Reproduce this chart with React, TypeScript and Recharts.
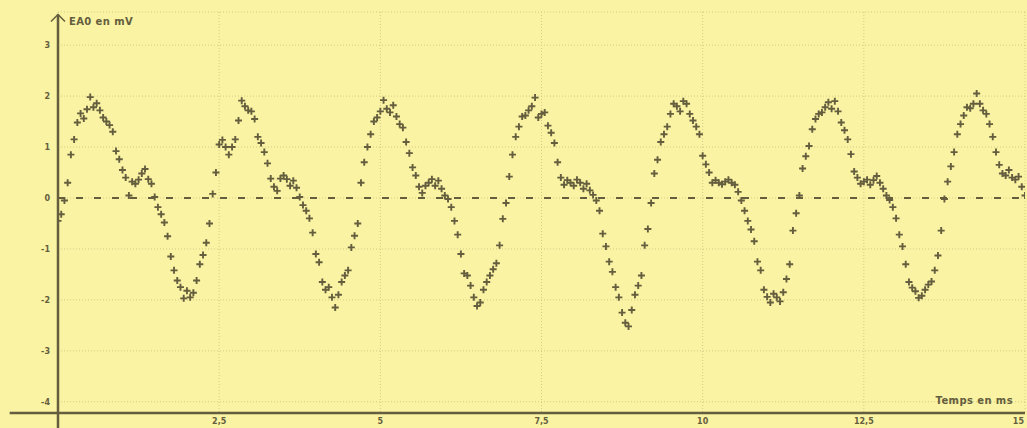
import { ComposedChart, Scatter, XAxis, YAxis, CartesianGrid, ReferenceLine, ReferenceDot } from 'recharts'

// Acquisition EA0 : une valeur toutes les 0,05 ms, de 0 à 15 ms
const SAMPLE_MS = 0.05
const eaoValues = [
  -0.45, -0.32, -0.05, 0.3, 0.85, 1.15, 1.48, 1.66, 1.56, 1.74,
  1.98, 1.78, 1.86, 1.72, 1.58, 1.5, 1.43, 1.3, 0.92, 0.76,
  0.55, 0.4, 0.05, 0.32, 0.28, 0.36, 0.48, 0.57, 0.37, 0.28,
  0.02, -0.18, -0.32, -0.48, -0.75, -1.15, -1.42, -1.62, -1.75, -1.97,
  -1.82, -1.95, -1.86, -1.62, -1.3, -1.12, -0.88, -0.5, 0.08, 0.5,
  1.05, 1.14, 1.0, 0.85, 1.0, 1.15, 1.52, 1.91, 1.8, 1.72,
  1.7, 1.55, 1.2, 1.08, 0.9, 0.68, 0.38, 0.22, 0.14, 0.38,
  0.44, 0.37, 0.24, 0.34, 0.2, 0.02, -0.14, -0.25, -0.4, -0.68,
  -1.1, -1.26, -1.65, -1.8, -1.75, -1.95, -2.15, -1.9, -1.65, -1.52,
  -1.42, -0.97, -0.74, -0.5, 0.3, 0.7, 1.0, 1.25, 1.5, 1.58,
  1.7, 1.92, 1.75, 1.68, 1.82, 1.6, 1.45, 1.38, 1.1, 0.88,
  0.6, 0.44, 0.22, 0.1, 0.24, 0.3, 0.37, 0.24, 0.34, 0.18,
  0.05, -0.02, -0.18, -0.45, -0.72, -1.1, -1.48, -1.52, -1.72, -1.95,
  -2.12, -2.05, -1.8, -1.65, -1.52, -1.4, -1.28, -0.93, -0.41, -0.1,
  0.42, 0.85, 1.2, 1.4, 1.6, 1.62, 1.72, 1.8, 1.97, 1.58,
  1.65, 1.68, 1.42, 1.28, 1.08, 0.7, 0.4, 0.26, 0.35, 0.3,
  0.24, 0.36, 0.3, 0.18, 0.28, 0.15, 0.06, -0.05, -0.25, -0.7,
  -0.95, -1.25, -1.45, -1.75, -1.95, -2.25, -2.45, -2.52, -2.2, -1.9,
  -1.72, -1.52, -0.93, -0.61, -0.1, 0.48, 0.75, 1.1, 1.25, 1.4,
  1.65, 1.85, 1.8, 1.7, 1.9, 1.85, 1.65, 1.52, 1.4, 1.25,
  0.83, 0.66, 0.5, 0.3, 0.35, 0.3, 0.27, 0.32, 0.36, 0.3,
  0.26, 0.12, -0.05, -0.25, -0.45, -0.62, -0.85, -1.25, -1.42, -1.8,
  -1.94, -2.05, -1.88, -1.95, -2.03, -1.85, -1.59, -1.3, -0.64, -0.3,
  0.05, 0.58, 0.82, 1.02, 1.35, 1.55, 1.65, 1.68, 1.78, 1.88,
  1.75, 1.9, 1.7, 1.48, 1.33, 1.15, 0.86, 0.52, 0.4, 0.28,
  0.32, 0.36, 0.26, 0.35, 0.43, 0.3, 0.18, 0.05, -0.04, -0.18,
  -0.4, -0.72, -0.95, -1.3, -1.65, -1.76, -1.83, -1.96, -1.92, -1.8,
  -1.7, -1.64, -1.42, -1.13, -0.64, -0.02, 0.32, 0.62, 0.9, 1.25,
  1.45, 1.62, 1.78, 1.76, 1.85, 2.05, 1.85, 1.72, 1.65, 1.45,
  1.2, 0.9, 0.65, 0.48, 0.44, 0.55, 0.4, 0.36, 0.42, 0.22,
  0.05,
]
const xTicks = [2.5, 5, 7.5, 10, 12.5, 15]
const yTicks = [-4, -3, -2, -1, 0, 1, 2, 3]

const data = eaoValues.map((v, i) => ({ t: Math.round(i * SAMPLE_MS * 100) / 100, v }))

const INK = '#655e3e'
const PAPER = '#f9f3a3'
const GRID = '#d3cb86'

// marqueur "+" comme sur l'écran de l'oscillo
const PlusMark = (props: any) => {
  const { cx, cy } = props
  if (cx == null || cy == null) return null
  return <path d={`M${cx - 3.5},${cy}H${cx + 3.5}M${cx},${cy - 3.5}V${cy + 3.5}`} stroke={INK} strokeWidth={1.9} fill="none" />
}

// flèche en haut de l'axe + titre de l'axe
const AxisArrow = (props: any) => {
  const { cx, cy } = props
  return (
    <g>
      <path d={`M${cx - 7},${cy + 7}L${cx},${cy}L${cx + 7},${cy + 7}`} stroke={INK} strokeWidth={1.5} fill="none" />
      <text x={cx + 11} y={cy + 10} fontSize={10} fill={INK} fontFamily="DejaVu Sans" fontWeight="bold" letterSpacing={0.4}>
        EA0 en mV
      </text>
    </g>
  )
}

const tickFont = { fontSize: 8, fill: INK, fontFamily: 'DejaVu Sans', fontWeight: 'bold' as const }

// étiquettes de l'axe des temps (la dernière est calée sur le bord)
const TimeTick = (props: any) => {
  const { x, y, payload } = props
  const last = payload.value === 15
  return (
    <text x={last ? x - 1 : x} y={y} dy={8} textAnchor={last ? 'end' : 'middle'} {...tickFont}>
      {String(payload.value).replace('.', ',')}
    </text>
  )
}

export default function App() {
  return (
    <div style={{ width: 1027, height: 428, background: PAPER, position: 'relative' }}>
      <style>{'body{margin:0}'}</style>
      <ComposedChart width={1027} height={428} data={data} margin={{ top: 12, right: 2, left: 0, bottom: 0 }}>
        <CartesianGrid stroke={GRID} strokeDasharray="1 2" />
        <XAxis
          dataKey="t"
          type="number"
          domain={[0, 15]}
          ticks={xTicks}
          allowDataOverflow
          axisLine={false}
          tickLine={false}
          tickSize={0}
          tickMargin={3}
          height={15}
          interval={0}
          tick={TimeTick}
        />
        <YAxis
          type="number"
          domain={[-4.22, 3.65]}
          ticks={yTicks}
          allowDataOverflow
          axisLine={false}
          tickLine={false}
          width={58}
          interval={0}
          tick={tickFont}
        />
        {/* ligne du zéro en tirets */}
        <ReferenceLine y={0} stroke={INK} strokeWidth={2} strokeDasharray="7 11" />
        {/* axes dessinés comme sur l'original (ils dépassent un peu) */}
        <ReferenceLine
          segment={[{ x: -0.75, y: -4.22 }, { x: 15, y: -4.22 }]}
          stroke={INK}
          strokeWidth={2.5}
          ifOverflow="visible"
        />
        <ReferenceLine
          segment={[{ x: 0, y: -4.52 }, { x: 0, y: 3.6 }]}
          stroke={INK}
          strokeWidth={2.5}
          ifOverflow="visible"
        />
        <ReferenceDot x={0} y={3.6} ifOverflow="visible" shape={AxisArrow} />
        <ReferenceDot
          x={15}
          y={-4.22}
          ifOverflow="visible"
          shape={(p: any) => (
            <text x={p.cx - 12} y={p.cy - 9} textAnchor="end" fontSize={10} fill={INK} fontFamily="DejaVu Sans" fontWeight="bold" letterSpacing={0.4}>
              Temps en ms
            </text>
          )}
        />
        <Scatter dataKey="v" shape={PlusMark} isAnimationActive={false} />
      </ComposedChart>
    </div>
  )
}
